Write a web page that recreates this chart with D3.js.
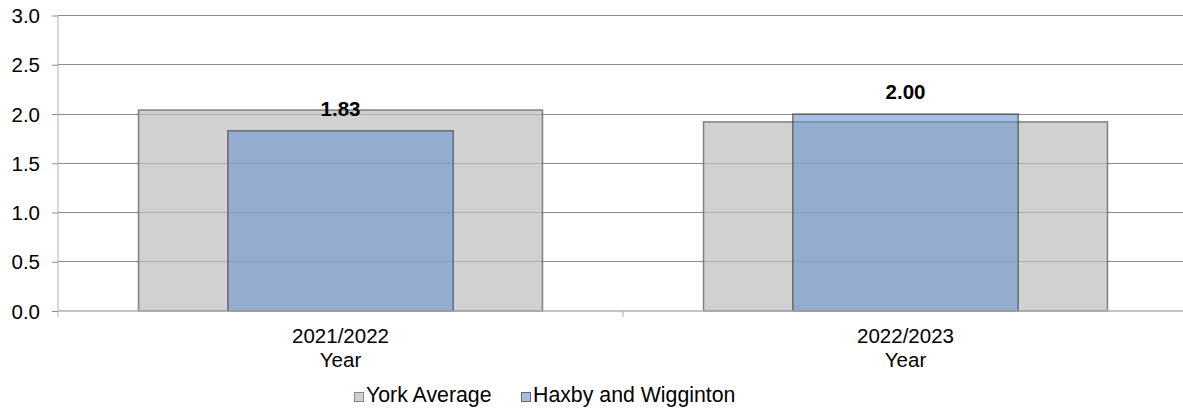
<!DOCTYPE html>
<html><head><meta charset="utf-8">
<script src="https://cdn.jsdelivr.net/npm/d3@7/dist/d3.min.js"></script>
<style>body{margin:0;background:#fff;}svg{display:block;font-family:"Liberation Sans",Arial,sans-serif;}</style>
</head><body><svg id="c" width="1183" height="409"></svg>
<script>
const categories = ["2021/2022", "2022/2023"];
const categorySub = ["Year", "Year"];
const yorkAverage = [2.04, 1.92];
const haxby = [1.83, 2.00];
const seriesNames = ["York Average", "Haxby and Wigginton"];
const yTicks = [0, 0.5, 1, 1.5, 2, 2.5, 3];

(function(){
const svg = d3.select("#c");
const FS = 20.5;
const pLeft = 58, pRight = 1188, pTop = 15.5, pBottom = 311;
const x = d3.scaleBand().domain(categories).range([pLeft, pRight]).padding(0);
const y = d3.scaleLinear().domain([0, 3]).range([pBottom, pTop]);

// gridlines
svg.append("g").selectAll("line").data(yTicks.slice(1)).join("line")
  .attr("x1", pLeft).attr("x2", 1183).attr("y1", d => y(d)).attr("y2", d => y(d))
  .attr("stroke", "#8c8c8c").attr("stroke-width", 1).attr("shape-rendering","crispEdges");

const grayW = x.bandwidth() * 0.715, blueW = x.bandwidth() * 0.399;
// gray bars
svg.append("g").selectAll("rect").data(yorkAverage).join("rect")
  .attr("x", (d,i) => x(categories[i]) + x.bandwidth()/2 - grayW/2)
  .attr("width", grayW)
  .attr("y", d => y(d)).attr("height", d => y(0) - y(d))
  .attr("fill", "#bdbdbd").attr("fill-opacity", 0.7)
  .attr("stroke", "#555").attr("stroke-opacity", 0.7).attr("stroke-width", 1.5);
// blue bars
svg.append("g").selectAll("rect").data(haxby).join("rect")
  .attr("x", (d,i) => x(categories[i]) + x.bandwidth()/2 - blueW/2)
  .attr("width", blueW)
  .attr("y", d => y(d)).attr("height", d => y(0) - y(d))
  .attr("fill", "#6a93cb").attr("fill-opacity", 0.6)
  .attr("stroke", "#333").attr("stroke-opacity", 0.6).attr("stroke-width", 1.5);

// value labels
svg.append("g").selectAll("text").data(haxby).join("text")
  .attr("x", (d,i) => x(categories[i]) + x.bandwidth()/2)
  .attr("y", d => y(d) - 15)
  .attr("text-anchor", "middle").attr("font-size", FS).attr("font-weight", "bold").attr("fill", "#000")
  .text(d => d.toFixed(2));

// axes
const ya = svg.append("g").attr("transform", `translate(${pLeft},0)`)
  .call(d3.axisLeft(y).tickValues(yTicks).tickFormat(d3.format(".1f")).tickSize(6).tickPadding(12));
ya.select(".domain").attr("stroke", "#b0b0b0").attr("d", `M0,${pTop}V${pBottom+6}`);
ya.selectAll(".tick line").attr("stroke", "#8c8c8c");
ya.selectAll("text").attr("font-size", FS).attr("fill", "#000").attr("dy", "0.35em").attr("font-family", "Liberation Sans, Arial, sans-serif");

svg.append("line").attr("x1", pLeft).attr("x2", 1183).attr("y1", pBottom).attr("y2", pBottom)
  .attr("stroke", "#b0b0b0").attr("stroke-width", 1.5);
// category separator tick
svg.append("g").selectAll("line").data(categories.slice(1)).join("line")
  .attr("x1", d => x(d)).attr("x2", d => x(d)).attr("y1", pBottom).attr("y2", pBottom + 6)
  .attr("stroke", "#b0b0b0");

// category labels
const cl = svg.append("g").selectAll("text").data(categories).join("text")
  .attr("x", d => x(d) + x.bandwidth()/2).attr("y", 343)
  .attr("text-anchor", "middle").attr("font-size", FS).attr("fill", "#000");
cl.append("tspan").text(d => d);
cl.append("tspan").attr("x", d => x(d) + x.bandwidth()/2).attr("dy", 23.5).text((d,i) => categorySub[i]);

// legend
const legend = [{name: seriesNames[0], fill: "#d0d0d0", stroke: "#888"}, {name: seriesNames[1], fill: "#a6bfe0", stroke: "#667"}];
const lx = [354, 521];
const lg = svg.append("g").selectAll("g").data(legend).join("g")
  .attr("transform", (d,i) => `translate(${lx[i]},392)`);
lg.append("rect").attr("x", 0.5).attr("y", 0.5).attr("width", 9).attr("height", 9)
  .attr("fill", d => d.fill).attr("stroke", d => d.stroke);
lg.append("text").attr("x", 12).attr("y", 10).attr("font-size", 21.3).attr("fill", "#000").text(d => d.name);
})();
</script></body></html>
